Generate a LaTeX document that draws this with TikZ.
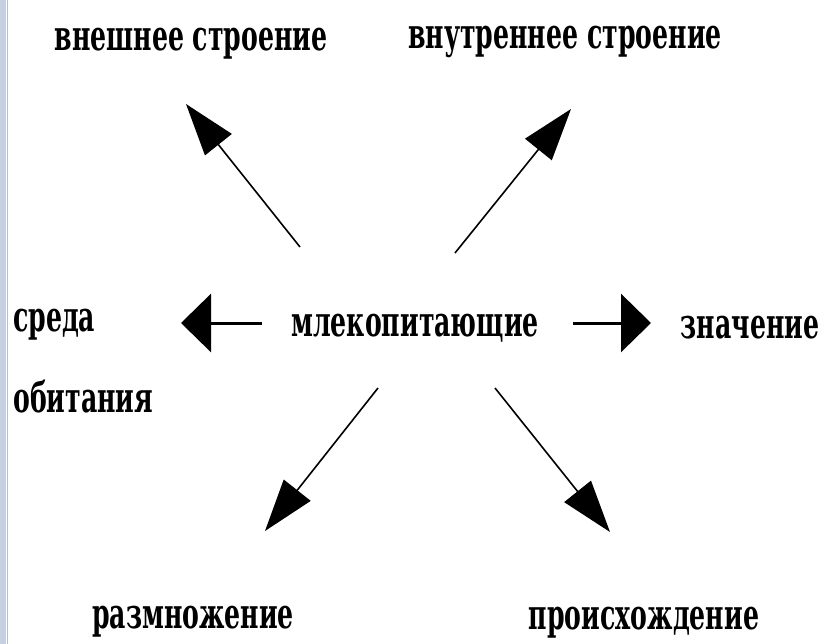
\documentclass[tikz,border=0pt]{standalone}
\usepackage{fontspec}
\newfontfamily\dfont{DejaVu Serif}[FakeStretch=0.6]
\usetikzlibrary{arrows.meta}
\definecolor{bandcol}{HTML}{C7D0E0}
\definecolor{edgecol}{HTML}{B4BFD3}
\begin{document}
\begin{tikzpicture}[x=1bp,y=-1bp,
  lbl/.style={font=\dfont\bfseries\fontsize{42bp}{50bp}\selectfont, inner sep=0pt, anchor=base},
  diag/.style={line width=1.6bp, -{Triangle[length=52bp,width=34bp]}},
  horiz/.style={line width=3bp, -{Triangle[length=30bp,width=58bp]}}]
\useasboundingbox (0,0) rectangle (823,644);
\fill[white] (0,0) rectangle (823,644);
\fill[bandcol] (0,0) rectangle (6,644);
\draw[edgecol, line width=1bp] (7.5,0) -- (7.5,644);
% labels
\node[lbl] (vnesh) at (191,51) {внешнее строение};
\node[lbl] (vnutr) at (565,49) {внутреннее строение};
\node[lbl, anchor=base west] (sreda) at (13,331) {среда};
\node[lbl, anchor=base west] (obit) at (13,412) {обитания};
\node[lbl] (mlek) at (415,336) {млекопитающие};
\node[lbl] (znach) at (750,338) {значение};
\node[lbl] (razm) at (193,628) {размножение};
\node[lbl] (proish) at (644,629) {происхождение};
% arrow ends
\coordinate (t1) at (300,247); \coordinate (h1) at (186,104);
\coordinate (t2) at (455,253); \coordinate (h2) at (571,109);
\coordinate (t3) at (262,323); \coordinate (h3) at (181,323);
\coordinate (t4) at (573,323); \coordinate (h4) at (651,323);
\coordinate (t5) at (378,388); \coordinate (h5) at (265,531);
\coordinate (t6) at (495,388); \coordinate (h6) at (610,532);
\draw[diag] (t1) -- (h1);
\draw[diag] (t2) -- (h2);
\draw[horiz] (t3) -- (h3);
\draw[horiz] (t4) -- (h4);
\draw[diag] (t5) -- (h5);
\draw[diag] (t6) -- (h6);
\end{tikzpicture}
\end{document}
